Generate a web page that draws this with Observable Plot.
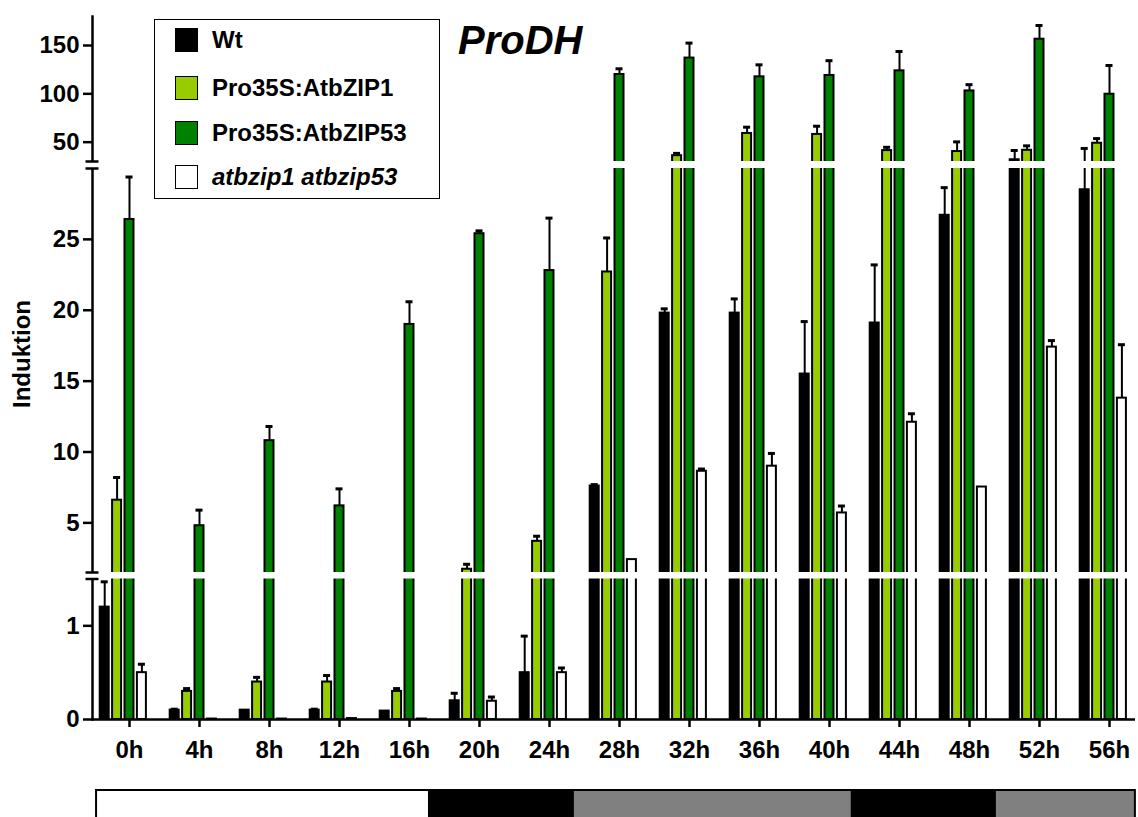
<!DOCTYPE html>
<html><head><meta charset="utf-8">
<script src="https://cdn.jsdelivr.net/npm/d3@7"></script>
<script src="https://cdn.jsdelivr.net/npm/@observablehq/plot@0.6"></script>
<style>
body{margin:0;background:#fff;font-family:"Liberation Sans",Arial,sans-serif;}
#wrap{position:relative;width:1138px;height:817px;overflow:hidden;background:#fff;}
#main,#band{position:absolute;left:0;}
#main{top:0;} #band{top:775px;}
#legend{position:absolute;left:154px;top:19px;width:286px;height:180px;border:1.5px solid #000;box-sizing:border-box;}
.sw{position:absolute;left:20px;width:23px;height:24px;border:1.5px solid #000;box-sizing:border-box;}
.lb{position:absolute;left:57px;font-size:24px;font-weight:bold;line-height:24px;white-space:nowrap;}
#title{position:absolute;left:458px;top:20px;font-size:40px;line-height:40px;font-weight:bold;font-style:italic;}
#ylab{position:absolute;left:22px;top:354px;transform:translate(-50%,-50%) rotate(-90deg);font-size:24px;font-weight:bold;white-space:nowrap;line-height:24px;}
</style></head><body>
<div id="wrap"><div id="main"></div><div id="band"></div><div id="legend"></div><div id="title">ProDH</div><div id="ylab">Induktion</div></div>
<script>
const times = ["0h","4h","8h","12h","16h","20h","24h","28h","32h","36h","40h","44h","48h","52h","56h"];
const series = ["Wt","Pro35S:AtbZIP1","Pro35S:AtbZIP53","atbzip1 atbzip53"];
const seriesItalic = [false,false,false,true];
const colors = ["#000000","#99cc00","#008000","#ffffff"];

const wt    = [1.2, 0.1, 0.1, 0.1, 0.09, 0.2, 0.5, 7.6, 19.8, 19.8, 15.5, 19.1, 26.7, 31.8, 28.5];
const wtErr = [0.27, 0.01, 0, 0.01, 0, 0.08, 0.39, 0.1, 0.3, 1.0, 3.7, 4.1, 1.95, 9.6, 15];
const lg    = [6.6, 0.30, 0.40, 0.40, 0.30, 1.73, 3.7, 22.7, 36, 59, 58, 41.3, 40.3, 41.6, 48.9];
const lgErr = [1.6, 0.03, 0.05, 0.07, 0.03, 0.35, 0.36, 2.4, 2.4, 6.5, 8.5, 3.4, 10, 4.6, 4.8];
const dg    = [26.4, 4.8, 10.8, 6.2, 19.0, 25.4, 22.8, 120, 137, 117.6, 119, 123.8, 103, 156.5, 99.6];
const dgErr = [3.0, 1.1, 1.0, 1.2, 1.6, 0.2, 3.7, 5.9, 15.5, 12.4, 15.3, 20, 6.5, 14.2, 29.7];
const wh    = [0.5, 0.005, 0.005, 0.01, 0.005, 0.195, 0.5, 2.41, 8.64, 9.0, 5.7, 12.1, 7.53, 17.4, 13.8];
const whErr = [0.09, 0, 0, 0, 0, 0.045, 0.05, 0, 0.16, 0.9, 0.49, 0.6, 0, 0.46, 3.77];

const yTicks = [0, 1, 5, 10, 15, 20, 25, 50, 100, 150];
const yDomain = [0, 1.5, 1.5001, 30, 30.001, 180];
const breaks = [[1.5, 1.5001], [30, 30.001]];
const periods = [
  {start: -1.77, end: 17.18, fill: "#ffffff"},
  {start: 17.18, end: 25.37, fill: "#000000"},
  {start: 25.37, end: 41.25, fill: "#808080"},
  {start: 41.25, end: 49.39, fill: "#000000"},
  {start: 49.39, end: 57.36, fill: "#808080"}
];
const hours = [0, 56];

const values = [wt, lg, dg, wh];
const errors = [wtErr, lgErr, dgErr, whErr];

const W = 1138, H = 775, mL = 92, mR = 3, mT = 16, mB = 56;
const innerW = W - mL - mR;
const slot = 12.4, band = 62, barW = 11, capHalf = 3.5;

const marks = [];
series.forEach((s, k) => {
  const d = times.map((t, i) => ({time: t, value: values[k][i], err: errors[k][i]}));
  const left = k * slot + 0.7;
  marks.push(Plot.barY(d, {x: "time", y1: 0, y2: "value", fill: colors[k], stroke: "#000", strokeWidth: 2,
    insetLeft: left + 1, insetRight: band - left - barW + 1}));
  const e = d.filter(r => r.err > 0);
  marks.push(Plot.ruleX(e, {x: "time", y1: "value", y2: r => r.value + r.err, dx: (k - 2) * slot, stroke: "#000", strokeWidth: 2}));
  marks.push(Plot.tickY(e, {x: "time", y: r => r.value + r.err, stroke: "#000", strokeWidth: 3,
    insetLeft: k * slot + 6.2 - capHalf, insetRight: band - (k * slot + 6.2 + capHalf)}));
});
marks.push(Plot.frame({anchor: "left", stroke: "#000", strokeWidth: 2.5}));
marks.push(Plot.rect(breaks, {y1: d => d[0], y2: d => d[1], fill: "#fff", insetLeft: -14}));
marks.push(Plot.ruleY(breaks.flat(), {y: d => d, stroke: "#000", strokeWidth: 2.5, insetLeft: -6.5, insetRight: innerW - 6.5}));
marks.push(Plot.ruleY([0], {stroke: "#000", strokeWidth: 2.5}));
marks.push(Plot.axisY({ticks: yTicks, tickFormat: d => String(d), tickSize: 9, tickPadding: 4, strokeWidth: 2.5,
  fontSize: 24, fontWeight: "bold", fill: "#000", label: null}));
marks.push(Plot.axisX({tickSize: 8, tickPadding: 13, strokeWidth: 2.5, fontSize: 24, fontWeight: "bold", fill: "#000", label: null}));

const chart = Plot.plot({
  width: W, height: H, marginLeft: mL, marginRight: mR, marginTop: mT, marginBottom: mB,
  style: {fontFamily: "Liberation Sans, Arial, sans-serif", fontSize: "24px", fontWeight: "bold", color: "#000", background: "transparent", overflow: "visible"},
  x: {type: "band", domain: times, range: [92, 1146.1], paddingInner: 0.118, paddingOuter: 0.059},
  y: {type: "linear", domain: yDomain, range: [719, 578.5, 572, 168, 161, 16]},
  marks
});
document.getElementById("main").appendChild(chart);

const bandPlot = Plot.plot({
  width: W, height: 50, marginTop: 15, marginBottom: 0, marginLeft: 0, marginRight: 0,
  style: {background: "transparent", overflow: "visible"},
  x: {type: "linear", domain: hours, range: [127.15, 1111.0], axis: null},
  color: {type: "identity"},
  marks: [Plot.rect(periods, {x1: "start", x2: "end", fill: "fill", stroke: "#000", strokeWidth: 2})]
});
document.getElementById("band").appendChild(bandPlot);

const legend = document.getElementById("legend");
const swTops = [8, 55.5, 101, 145];
series.forEach((s, k) => {
  const sw = document.createElement("div");
  sw.className = "sw"; sw.style.top = swTops[k] + "px"; sw.style.background = colors[k];
  legend.appendChild(sw);
  const lb = document.createElement("div");
  lb.className = "lb"; lb.style.top = swTops[k] + "px"; lb.textContent = s;
  if (seriesItalic[k]) lb.style.fontStyle = "italic";
  legend.appendChild(lb);
});
</script></body></html>
